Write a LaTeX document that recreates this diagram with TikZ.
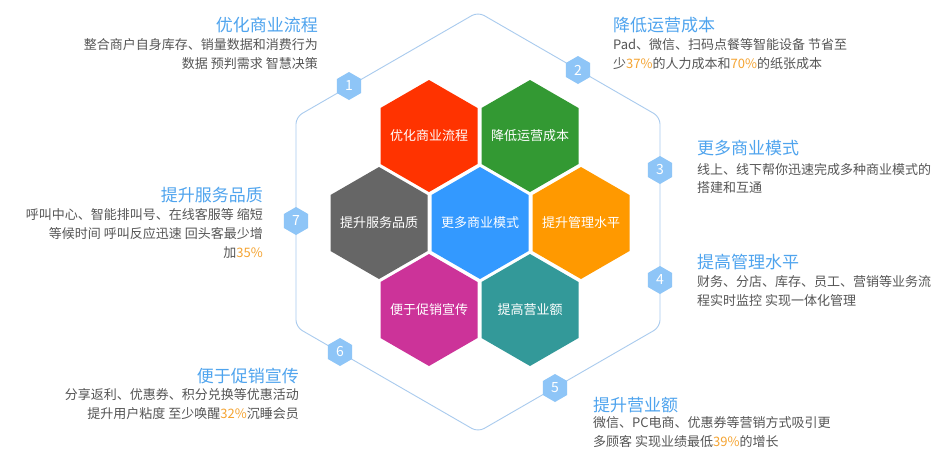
\documentclass[tikz,border=0pt]{standalone}
\usepackage{fontspec}
\setmainfont{Noto Sans CJK SC}
\definecolor{ttlc}{HTML}{4FA4EE}
\definecolor{bodyc}{HTML}{555555}
\definecolor{orgc}{HTML}{F5A432}
\definecolor{lblc}{HTML}{8EC5F7}
\definecolor{linec}{HTML}{A9CBEE}
\definecolor{cred}{HTML}{FF3300}
\definecolor{cgreen}{HTML}{339933}
\definecolor{cgray}{HTML}{666666}
\definecolor{cblue}{HTML}{3399FF}
\definecolor{corange}{HTML}{FF9900}
\definecolor{cmag}{HTML}{CC3399}
\definecolor{cteal}{HTML}{339999}
\tikzset{
  pics/hexa/.style args={#1/#2}{code={\fill[#1] (90:#2) -- (150:#2) -- (210:#2) -- (270:#2) -- (330:#2) -- (30:#2) -- cycle;}},
  ttl/.style={inner sep=0pt, text=ttlc, font=\fontsize{17}{20}\selectfont},
  bodytxt/.style={inner sep=0pt, text=bodyc, font=\fontsize{13}{16}\selectfont},
  hxt/.style={inner sep=0pt, text=white, font=\fontsize{13}{16}\selectfont},
  numtxt/.style={inner sep=0pt, text=white, font=\fontsize{14}{16}\selectfont},
}
\begin{document}
\begin{tikzpicture}[x=1pt,y=-1pt]
\useasboundingbox (0,0) rectangle (951,467);
\fill[white] (0,0) rectangle (951,467);
% big outline
\draw[linec, line width=0.9pt, rounded corners=7pt] (660,222) -- (660,327) -- (478,432) -- (296,327) -- (296,117) -- (478,12) -- (660,117) -- cycle;
% small numbered hexagons
\pic at (349,86) {hexa={lblc/14}};
\pic at (578,70) {hexa={lblc/14}};
\pic at (660,170) {hexa={lblc/14}};
\pic at (660,280) {hexa={lblc/14}};
\pic at (555,388) {hexa={lblc/14}};
\pic at (340,352) {hexa={lblc/14}};
\pic at (296,221) {hexa={lblc/14}};
\node[numtxt] (n1) at (349,86) {1};
\node[numtxt] (n2) at (578,70) {2};
\node[numtxt] (n3) at (660,170) {3};
\node[numtxt] (n4) at (660,280) {4};
\node[numtxt] (n5) at (555,388) {5};
\node[numtxt] (n6) at (340,352) {6};
\node[numtxt] (n7) at (296,221) {7};
% central hexagons
\pic at (429,136) {hexa={cred/56}};
\pic at (530,136) {hexa={cgreen/56}};
\pic at (379,223) {hexa={cgray/56}};
\pic at (480,223) {hexa={cblue/56}};
\pic at (581,223) {hexa={corange/56}};
\pic at (429,310) {hexa={cmag/56}};
\pic at (530,310) {hexa={cteal/56}};
\node[hxt] (h1) at (429,136) {优化商业流程};
\node[hxt] (h2) at (530,136) {降低运营成本};
\node[hxt] (h7) at (379,223) {提升服务品质};
\node[hxt] (h3) at (480,223) {更多商业模式};
\node[hxt] (h4) at (581,223) {提升管理水平};
\node[hxt] (h6) at (429,310) {便于促销宣传};
\node[hxt] (h5) at (530,310) {提高营业额};
% text blocks
\node[ttl, anchor=east] (t1) at (318,25) {优化商业流程};
\node[bodytxt, anchor=east] (b1a) at (318,45) {整合商户自身库存、销量数据和消费行为};
\node[bodytxt, anchor=east] (b1b) at (318,64) {数据 预判需求 智慧决策};
\node[ttl, anchor=west] (t2) at (613,25) {降低运营成本};
\node[bodytxt, anchor=west] (b2a) at (613,45) {Pad、微信、扫码点餐等智能设备 节省至};
\node[bodytxt, anchor=west] (b2b) at (613,64) {少\textcolor{orgc}{37\%}的人力成本和\textcolor{orgc}{70\%}的纸张成本};
\node[ttl, anchor=west] (t3) at (697,148) {更多商业模式};
\node[bodytxt, anchor=west] (b3a) at (697,170) {线上、线下帮你迅速完成多种商业模式的};
\node[bodytxt, anchor=west] (b3b) at (697,188) {搭建和互通};
\node[ttl, anchor=west] (t4) at (697,262) {提高管理水平};
\node[bodytxt, anchor=west] (b4a) at (697,282) {财务、分店、库存、员工、营销等业务流};
\node[bodytxt, anchor=west] (b4b) at (697,301) {程实时监控 实现一体化管理};
\node[ttl, anchor=west] (t5) at (593,405) {提升营业额};
\node[bodytxt, anchor=west] (b5a) at (593,423) {微信、PC电商、优惠券等营销方式吸引更};
\node[bodytxt, anchor=west] (b5b) at (593,442) {多顾客 实现业绩最低\textcolor{orgc}{39\%}的增长};
\node[ttl, anchor=east] (t6) at (299,376) {便于促销宣传};
\node[bodytxt, anchor=east] (b6a) at (299,395) {分享返利、优惠券、积分兑换等优惠活动};
\node[bodytxt, anchor=east] (b6b) at (299,414) {提升用户粘度 至少唤醒\textcolor{orgc}{32\%}沉睡会员};
\node[ttl, anchor=east] (t7) at (263,195) {提升服务品质};
\node[bodytxt, anchor=east] (b7a) at (263,215) {呼叫中心、智能排叫号、在线客服等 缩短};
\node[bodytxt, anchor=east] (b7b) at (263,234) {等候时间 呼叫反应迅速 回头客最少增};
\node[bodytxt, anchor=east] (b7c) at (263,253) {加\textcolor{orgc}{35\%}};
\end{tikzpicture}
\end{document}
